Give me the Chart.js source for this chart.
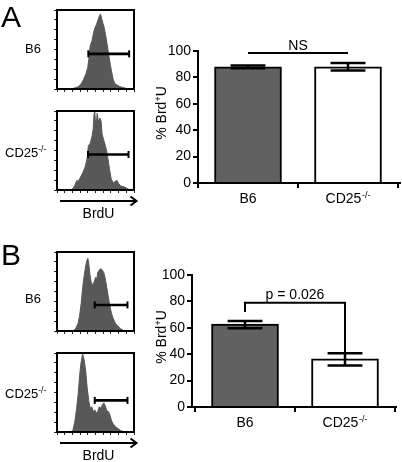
<!DOCTYPE html>
<html><head><meta charset="utf-8">
<script src="https://cdn.jsdelivr.net/npm/chart.js@4.4.1/dist/chart.umd.min.js"></script>
<style>
html,body{margin:0;padding:0;background:#fff;}
#root{position:relative;width:402px;height:462px;overflow:hidden;background:#fff;}
canvas{position:absolute;}
svg{position:absolute;left:0;top:0;pointer-events:none;}
</style></head><body>
<div id="root"></div>
<script>
// ---------------- DATA ----------------
const categories = ['B6', 'CD25-/-'];
// Panel A bar chart (% BrdU+)
const aMeans = [88, 88];
const aErrLo = [87, 85.3];
const aErrHi = [89, 90.9];
// Panel B bar chart
const bMeans = [62.9, 36.4];
const bErrLo = [59.7, 31.4];
const bErrHi = [65.2, 40.7];
const yTicks = [0, 20, 40, 60, 80, 100];
// significance annotations
const aSigText = 'NS';
const aSigLevel = 98.5;
const bSigText = 'p = 0.026';
const bBracketLevel = 79;
const bBracketLeftEnd = 72;
const bBracketRightEnd = 40.7;

// Histograms: x = BrdU position (% of axis), y = count (% of box height)
const histA1X = [0,17.8,23.7,27.7,31.6,34.4,37.5,39.9,41.5,43.1,45.5,47.4,49.4,51.4,53.4,55.3,56.5,58.1,59.7,61.3,63.2,65.2,67.2,69.2,71.1,73.1,75.1,77.9,81.8,87,92.9,100];
const histA1Y = [0,0,1.5,3,7,12,19,27,39,55,61,71,78,82,88,93,95,89,83,78,68,56,43,31,21,12,7,5,3,1.5,0,0];
const histA2X = [0,17.8,20.9,23.7,25.7,27.7,30.4,33.6,36.8,39.5,40.7,43.1,45.5,47,48.2,49,49.8,51,52.2,53.4,54.5,55.7,57.3,58.5,60.5,62.5,64.4,66.4,68.4,70.4,73.1,75.9,77.9,80.2,83,87,90.9,94.9,100];
const histA2Y = [0,0,2,7,12,11,16,22,30,42,56,59,68,77,97,99,89,83,97,89,81,91,87,71,64,57,50,38,25,14,9,11,12,8,5,4,2,0,0];
const histB1X = [0,21.6,24.7,27.5,29.4,31.4,33.3,35.3,37.3,38.8,40,41.2,42.7,44.3,46.3,48.2,50.2,51.8,52.9,54.9,56.9,58.8,60.8,62.7,64.7,66.7,68.6,70.6,72.5,75.7,78.4,82.4,87.5,100];
const histB1Y = [0,0,4,10,20,35,55,70,83,89,92,86,72,62,58,62,68,66,74,77,79,77,74,66,55,43,32,23,17,10,7,3,0,0];
const histB2X = [0,18.4,20.8,23.1,25.5,27.5,29.4,31.4,33.3,35.3,37.3,39.2,41.2,43.1,45.1,47.1,49,51,52.9,54.9,56.9,58.8,60.8,62.7,64.7,66.7,68.6,70.6,72.5,75.7,78.4,82.4,87.5,100];
const histB2Y = [0,0,3,13,30,48,72,89,99,91,77,56,40,30,32,26,28,24,26,32,30,34,37,33,27,26,22,15,11,7,5,2,0,0];
// gates: [level, start, end]
const gateA1 = [44.5, 40.7, 93.7];
const gateA2 = [45, 40.3, 92.9];
const gateB1 = [33, 49, 91.5];
const gateB2 = [40, 49, 91.5];

// ---------------- SETUP ----------------
const FONT = "'Liberation Sans', Arial, Helvetica, sans-serif";
Chart.defaults.font.family = FONT;
Chart.defaults.color = '#000';
const root = document.getElementById('root');
function makeCanvas(left, top, w, h) {
  const c = document.createElement('canvas');
  c.width = w; c.height = h;
  c.style.left = left + 'px'; c.style.top = top + 'px';
  c.style.width = w + 'px'; c.style.height = h + 'px';
  root.appendChild(c);
  return c;
}

const framePlugin = {
  id: 'frame',
  afterDraw(chart) {
    const a = chart.chartArea, ctx = chart.ctx;
    ctx.save();
    ctx.strokeStyle = '#000'; ctx.lineWidth = 2;
    ctx.strokeRect(a.left, a.top, a.right - a.left, a.bottom - a.top);
    ctx.restore();
  }
};

function histChart(left, top, xs, ys, gate) {
  const W = 89, H = 91;
  const cv = makeCanvas(left, top, W, H);
  const tickGrid = { drawOnChartArea: false, drawTicks: true, tickLength: 3, color: '#222', lineWidth: 1 };
  new Chart(cv, {
    type: 'line',
    data: { datasets: [
      { data: xs.map((x, i) => ({ x: x, y: ys[i] })), fill: 'origin', backgroundColor: '#585858',
        borderColor: '#585858', borderWidth: 1, pointRadius: 0, tension: 0, order: 2 },
      { data: [{ x: gate[1], y: gate[0] }, { x: gate[2], y: gate[0] }], borderColor: '#000', borderWidth: 2.6,
        pointStyle: 'line', rotation: 90, pointRadius: 3.5, pointBorderWidth: 2, pointBorderColor: '#000',
        fill: false, order: 1 }
    ]},
    options: {
      responsive: false, animation: false, events: [],
      layout: { padding: { top: 2, right: 2, left: 0, bottom: 0 } },
      plugins: { legend: { display: false }, tooltip: { enabled: false } },
      scales: {
        x: { type: 'linear', min: 0, max: 100, afterFit: s => { s.height = 5; },
             ticks: { display: false, stepSize: 10 }, grid: tickGrid, border: { display: false } },
        y: { type: 'linear', min: 0, max: 100, afterFit: s => { s.width = 5; },
             ticks: { display: false, stepSize: 12.5 }, grid: tickGrid, border: { display: false } }
      }
    },
    plugins: [framePlugin]
  });
}

const barDecor = {
  id: 'barDecor',
  afterDatasetsDraw(chart, args, o) {
    const ctx = chart.ctx, y = chart.scales.y;
    const meta = chart.getDatasetMeta(0);
    ctx.save();
    ctx.strokeStyle = '#000'; ctx.lineWidth = 2.5;
    o.lo.forEach((lo, i) => {
      const bar = meta.data[i];
      const cx = bar.x, hw = bar.width * 0.26;
      const yl = y.getPixelForValue(lo), yh = y.getPixelForValue(o.hi[i]);
      ctx.beginPath();
      ctx.moveTo(cx, yl); ctx.lineTo(cx, yh);
      ctx.moveTo(cx - hw, yl); ctx.lineTo(cx + hw, yl);
      ctx.moveTo(cx - hw, yh); ctx.lineTo(cx + hw, yh);
      ctx.stroke();
    });
    ctx.restore();
  },
  afterDraw(chart, args, o) {
    const ctx = chart.ctx, x = chart.scales.x, y = chart.scales.y, a = chart.chartArea;
    ctx.save();
    ctx.fillStyle = '#000';
    ctx.textBaseline = 'alphabetic';
    // category labels with superscripts
    o.cats.forEach((c, i) => {
      const px = x.getPixelForValue(i);
      const m = c.match(/^(.*?)(-\/-)$/);
      const main = m ? m[1] : c, sup = m ? m[2] : '';
      ctx.font = '14px ' + FONT;
      const w1 = ctx.measureText(main).width;
      ctx.font = '9px ' + FONT;
      const w2 = sup ? ctx.measureText(sup).width + 0.5 : 0;
      const x0 = px - (w1 + w2) / 2;
      const base = a.bottom + 20;
      ctx.font = '14px ' + FONT; ctx.textAlign = 'left';
      ctx.fillText(main, x0, base);
      if (sup) { ctx.font = '9px ' + FONT; ctx.fillText(sup, x0 + w1 + 0.5, base - 5); }
    });
    // significance text
    ctx.font = '14px ' + FONT; ctx.textAlign = 'center';
    const sx = (x.getPixelForValue(0) + x.getPixelForValue(1)) / 2;
    ctx.fillText(o.sigText, sx, y.getPixelForValue(o.sigLevel) - o.sigGap);
    // y axis title, rotated, with superscript +
    const cy = (a.top + a.bottom) / 2 - 4;
    ctx.translate(o.titleX, cy);
    ctx.rotate(-Math.PI / 2);
    ctx.textAlign = 'left';
    ctx.font = '14px ' + FONT;
    const p1 = '% Brd', p3 = 'U';
    const w1 = ctx.measureText(p1).width, w3 = ctx.measureText(p3).width;
    ctx.font = '9px ' + FONT;
    const w2 = ctx.measureText('+').width;
    let tx = -(w1 + w2 + w3) / 2;
    ctx.font = '14px ' + FONT; ctx.fillText(p1, tx, 0); tx += w1;
    ctx.font = '9px ' + FONT; ctx.fillText('+', tx, -5); tx += w2;
    ctx.font = '14px ' + FONT; ctx.fillText(p3, tx, 0);
    ctx.restore();
  }
};

function barChart(left, top, W, H, xMin, xMax, means, lo, hi, sigLines, sigText, sigLevel, sigGap, titleX) {
  const cv = makeCanvas(left, top, W, H);
  const axisGrid = { drawOnChartArea: false, drawTicks: true, tickLength: 5, color: '#000', lineWidth: 2 };
  const datasets = [{
    type: 'bar',
    data: means.map((v, i) => ({ x: i, y: v })),
    backgroundColor: ['#616161', '#ffffff'], borderColor: '#000', borderWidth: 2,
    borderSkipped: 'start', barThickness: 67, order: 2
  }];
  sigLines.forEach(line => datasets.push({
    type: 'line', data: line, borderColor: '#000', borderWidth: 2, pointRadius: 0,
    fill: false, tension: 0, order: 0, clip: false
  }));
  new Chart(cv, {
    type: 'bar',
    data: { datasets },
    options: {
      responsive: false, animation: false, events: [],
      layout: { padding: { top: 11, right: 2, left: 0, bottom: 0 } },
      plugins: {
        legend: { display: false }, tooltip: { enabled: false },
        barDecor: { lo, hi, cats: categories, sigText, sigLevel, sigGap, titleX }
      },
      scales: {
        x: { type: 'linear', min: xMin, max: xMax, offset: false,
             afterBuildTicks: s => { s.ticks = categories.map((c, i) => ({ value: i })); },
             afterFit: s => { s.height = 27; },
             ticks: { display: false }, grid: axisGrid, border: { width: 2, color: '#000' } },
        y: { type: 'linear', min: 0, max: 100,
             afterBuildTicks: s => { s.ticks = yTicks.map(v => ({ value: v })); },
             afterFit: s => { s.width = 48; },
             ticks: { font: { size: 14 }, color: '#000', padding: 2 },
             grid: axisGrid, border: { width: 2, color: '#000' } }
      }
    },
    plugins: [barDecor]
  });
}

// ---------------- CHARTS ----------------
histChart(51, 4, histA1X, histA1Y, gateA1);
histChart(51, 105, histA2X, histA2Y, gateA2);
histChart(51, 246, histB1X, histB1Y, gateB1);
histChart(51, 347, histB2X, histB2Y, gateB2);

barChart(150, 40, 252, 170, -0.5, 1.52, aMeans, aErrLo, aErrHi,
  [[{ x: 0, y: aSigLevel }, { x: 1, y: aSigLevel }]], aSigText, aSigLevel, 2.5, 16);
barChart(144, 264, 254, 170, -0.53, 1.51, bMeans, bErrLo, bErrHi,
  [[{ x: 0, y: bBracketLeftEnd }, { x: 0, y: bBracketLevel }, { x: 1, y: bBracketLevel }, { x: 1, y: bBracketRightEnd }]],
  bSigText, bBracketLevel, 3.5, 22);

// ---------------- TEXT LABELS ----------------
root.insertAdjacentHTML('beforeend', `
<svg width="402" height="462" font-family="${FONT.replace(/"/g, '')}" fill="#000">
  <text x="1" y="27" font-size="30">A</text>
  <text x="1" y="265" font-size="30">B</text>
  <text x="25" y="52.5" font-size="13">B6</text>
  <text x="5" y="157" font-size="13">CD25<tspan font-size="8.5" dy="-5">-/-</tspan></text>
  <text x="25" y="303" font-size="13">B6</text>
  <text x="5" y="398" font-size="13">CD25<tspan font-size="8.5" dy="-5">-/-</tspan></text>
  <text x="98.5" y="218" font-size="14" text-anchor="middle">BrdU</text>
  <text x="98.5" y="459.5" font-size="14" text-anchor="middle">BrdU</text>
  <g stroke="#000" stroke-width="2" fill="none">
    <line x1="60" y1="201" x2="136" y2="201"/>
    <polyline points="130.5,196.5 136.5,201 130.5,205.5"/>
    <line x1="60" y1="443" x2="136" y2="443"/>
    <polyline points="130.5,438.5 136.5,443 130.5,447.5"/>
  </g>
</svg>`);
</script>
</body></html>
